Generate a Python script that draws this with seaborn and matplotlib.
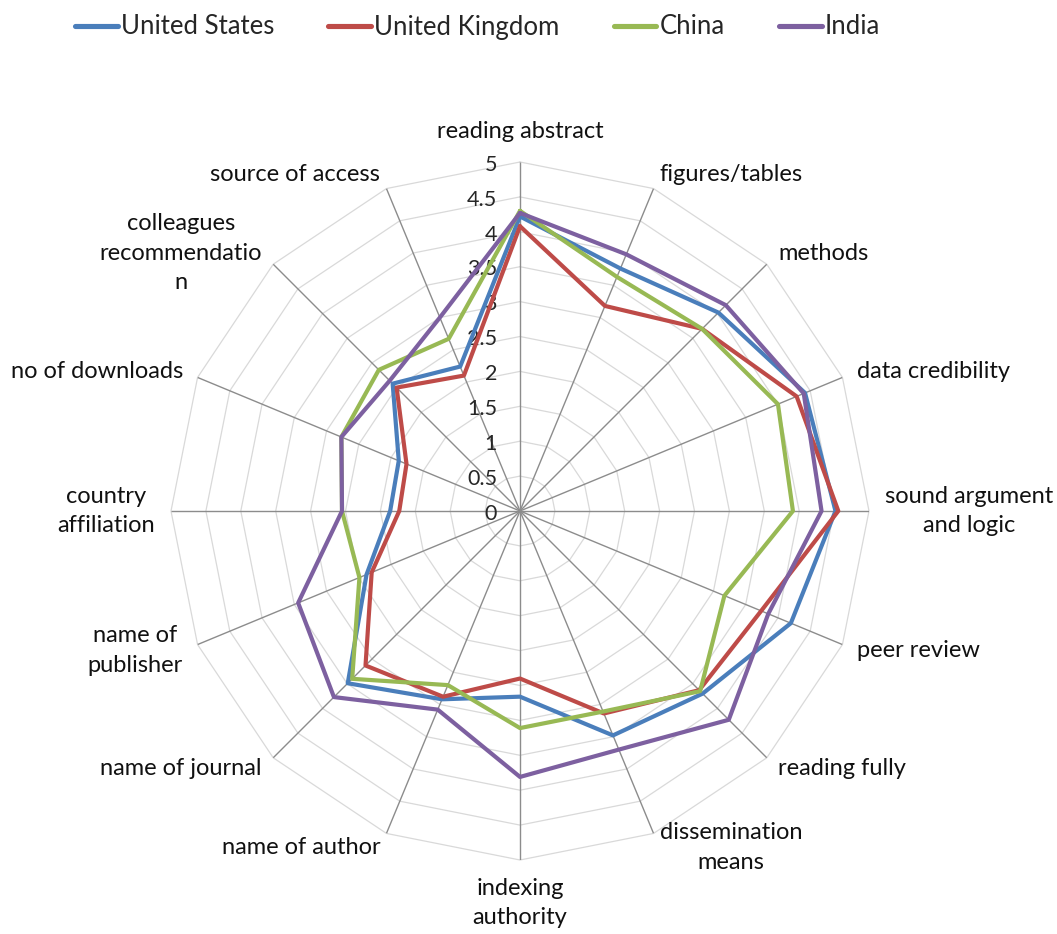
import numpy as np
import pandas as pd
import matplotlib
matplotlib.use("Agg")
import matplotlib.pyplot as plt
import seaborn as sns

# Survey criteria, clockwise from the top of the radar
categories = [
    "reading abstract", "figures/tables", "methods", "data credibility",
    "sound argument\nand logic", "peer review", "reading fully",
    "dissemination\nmeans", "indexing\nauthority", "name of author",
    "name of journal", "name of\npublisher", "country\naffiliation",
    "no of downloads", "colleagues\nrecommendatio\nn", "source of access",
]

# Mean importance score per criterion (0-5 scale)
united_states = [4.22, 3.76, 4.02, 4.42, 4.52, 4.20, 3.70, 3.48,
                 2.66, 2.92, 3.49, 2.38, 1.86, 1.88, 2.58, 2.24]
united_kingdom = [4.08, 3.18, 3.69, 4.29, 4.56, 3.74, 3.63, 3.14,
                  2.40, 2.88, 3.13, 2.30, 1.73, 1.76, 2.50, 2.10]
china = [4.30, 3.63, 3.69, 4.00, 3.91, 3.17, 3.65, 3.11,
         3.11, 2.70, 3.40, 2.49, 2.55, 2.77, 2.86, 2.67]
india = [4.27, 3.98, 4.17, 4.40, 4.32, 3.85, 4.23, 3.70,
         3.81, 3.08, 3.77, 3.44, 2.55, 2.77, 2.64, 3.00]

series_names = ["United States", "United Kingdom", "China", "India"]
scale_ticks = [0, 0.5, 1, 1.5, 2, 2.5, 3, 3.5, 4, 4.5, 5]
tick_labels = ["0", "0.5", "1", "1.5", "2", "2.5", "3", "3.5", "4", "4.5", "5"]

colors = ["#4A7EBB", "#BE4B48", "#98B954", "#7D60A0"]

sns.set_style("white")
plt.rcParams["font.family"] = ["Lato", "DejaVu Sans"]

n = len(categories)
theta = np.linspace(0, 2 * np.pi, n, endpoint=False)
theta_closed = np.append(theta, 2 * np.pi)

rows = []
for name, vals in zip(series_names, [united_states, united_kingdom, china, india]):
    closed = list(vals) + [vals[0]]
    for t, v in zip(theta_closed, closed):
        rows.append({"angle": t, "score": v, "country": name})
df = pd.DataFrame(rows)

fig = plt.figure(figsize=(10.57, 9.34), dpi=100)
ax = fig.add_axes([171 / 1057, 74 / 934, 698 / 1057, 698 / 934], projection="polar")
ax.set_theta_zero_location("N")
ax.set_theta_direction(-1)
ax.set_ylim(0, 5)
ax.grid(False)
ax.spines["polar"].set_visible(False)
ax.set_xticks([])
ax.set_yticks([])

# polygonal web rings and spokes
for r in scale_ticks[1:]:
    ax.plot(theta_closed, [r] * (n + 1), color="#D9D9D9", lw=0.9,
            zorder=1, clip_on=False)
ax.vlines(theta, 0, 5, color="#8C8C8C", lw=1.0, zorder=1.5)

sns.lineplot(data=df, x="angle", y="score", hue="country",
             hue_order=series_names, palette=colors, sort=False,
             estimator=None, linewidth=3, ax=ax, zorder=3)
ax.set_xlabel("")
ax.set_ylabel("")

# radial scale labels along the vertical axis
for r, lab in zip(scale_ticks, tick_labels):
    ax.annotate(lab, xy=(0, r), xytext=(-16.5, -2), textcoords="offset points",
                ha="right", va="center", fontsize=15.5, color="#262626",
                zorder=2)

# category labels around the outer ring
for t, lab in zip(theta, categories):
    s, c = np.sin(t), np.cos(t)
    nlines = lab.count("\n") + 1
    if abs(s) < 0.05:
        ha = "center"
        dx = 0
        dy = (nlines * 18 / 2 + 13) * np.sign(c)
    else:
        ha = "left" if s > 0 else "right"
        dx = 11.5 * s
        dy = 11 * c
    ax.annotate(lab, xy=(t, 5), xytext=(dx, dy), textcoords="offset points",
                ha=ha, va="center", multialignment="center", fontsize=17,
                linespacing=1.5, color="#111111", annotation_clip=False)

sns.move_legend(ax, "center left", bbox_to_anchor=(75 / 1057, 1 - 27 / 934),
                bbox_transform=fig.transFigure, ncol=4, frameon=False,
                title=None, handlelength=1.67, handletextpad=0.12,
                columnspacing=2.1, borderpad=0, borderaxespad=0, fontsize=18.5)
for h in ax.get_legend().legend_handles:
    h.set_linewidth(3.7)

fig.savefig("out.png", dpi=100, facecolor="white")
